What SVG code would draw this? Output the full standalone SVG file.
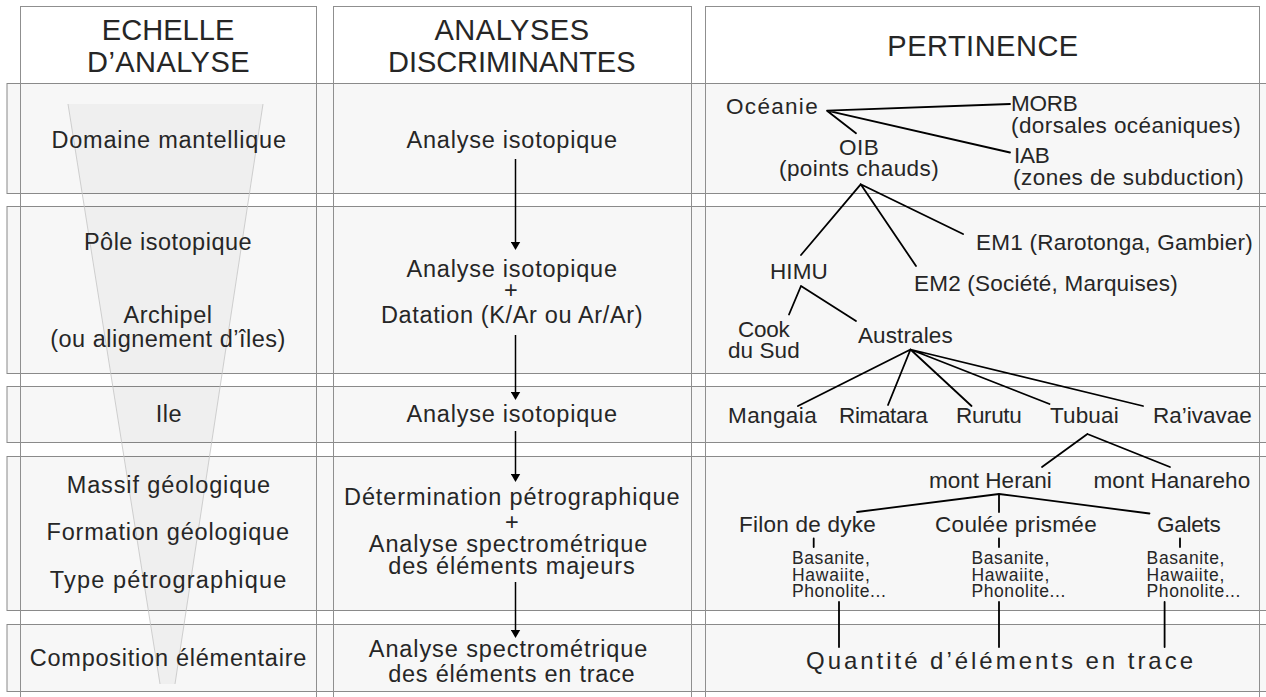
<svg xmlns="http://www.w3.org/2000/svg" width="1266" height="697" viewBox="0 0 1266 697">
<defs>
<style>
text{font-family:"Liberation Sans",Arial,Helvetica,sans-serif;fill:#262626}
.h{font-size:29px;letter-spacing:0.5px;text-anchor:middle}
.t{font-size:23.5px;letter-spacing:0.5px;text-anchor:middle}
.r{font-size:22.5px;letter-spacing:0.3px}
.rm{font-size:22.5px;letter-spacing:0.3px;text-anchor:middle}
.s{font-size:17.5px;letter-spacing:0.2px}
.q{font-size:24px;letter-spacing:3px;text-anchor:middle}
.col{fill:#fff;stroke:none}
.colline{fill:none;stroke:#8f8f8f;stroke-width:1}
.band{fill:#f7f7f7;stroke:#8a8a8a;stroke-width:1}
.ln{stroke:#000;stroke-width:1.8;fill:none;stroke-linecap:round}
.arr{stroke:#000;stroke-width:1.5;fill:none;marker-end:url(#ah)}
</style>
<marker id="ah" markerUnits="userSpaceOnUse" markerWidth="10" markerHeight="10" refX="5.5" refY="5" orient="auto"><path d="M0,0 L8.5,5 L0,10 z" fill="#000"/></marker>
</defs>
<g id="background">
<rect class="col" x="20" y="6" width="296" height="700"/>
<rect class="col" x="333" y="6" width="359" height="700"/>
<rect class="col" x="706" y="6" width="554" height="700"/>
<rect class="band" x="7" y="83.5" width="1270" height="110"/>
<rect class="band" x="7" y="206.5" width="1270" height="167"/>
<rect class="band" x="7" y="386.5" width="1270" height="56"/>
<rect class="band" x="7" y="456.5" width="1270" height="154"/>
<rect class="band" x="7" y="624.5" width="1270" height="67"/>
<rect class="colline" x="20.5" y="6.5" width="296" height="700"/>
<rect class="colline" x="333.5" y="6.5" width="358" height="700"/>
<rect class="colline" x="705.5" y="6.5" width="554" height="700"/>
<polygon points="68,104 263,104 175,684 160,684" fill="#000" fill-opacity="0.03"/>
<path d="M68,104 L160,684 M263,104 L175,684" stroke="#c4c4c4" stroke-width="0.8" fill="none"/>
</g>
<g id="headers">
<text class="h" x="168.3" y="40" textLength="133" lengthAdjust="spacing">ECHELLE</text>
<text class="h" x="168.5" y="71.7" textLength="163" lengthAdjust="spacing">D’ANALYSE</text>
<text class="h" x="512" y="40">ANALYSES</text>
<text class="h" x="512" y="72" textLength="248" lengthAdjust="spacing">DISCRIMINANTES</text>
<text class="h" x="983" y="56">PERTINENCE</text>
</g>
<g id="echelle">
<text class="t" x="169" y="147.5" textLength="235" lengthAdjust="spacing">Domaine mantellique</text>
<text class="t" x="168" y="250">Pôle isotopique</text>
<text class="t" x="168" y="323">Archipel</text>
<text class="t" x="168" y="347">(ou alignement d’îles)</text>
<text class="t" x="169" y="421.7">Ile</text>
<text class="t" x="168.7" y="492.5" textLength="204" lengthAdjust="spacing">Massif géologique</text>
<text class="t" x="168" y="540" textLength="243" lengthAdjust="spacing">Formation géologique</text>
<text class="t" x="168.3" y="587.5" textLength="237" lengthAdjust="spacing">Type pétrographique</text>
<text class="t" x="168.3" y="666" textLength="277" lengthAdjust="spacing">Composition élémentaire</text>
</g>
<g id="analyses">
<text class="t" x="512" y="148" textLength="211" lengthAdjust="spacing">Analyse isotopique</text>
<text class="t" x="512" y="276.7" textLength="211" lengthAdjust="spacing">Analyse isotopique</text>
<text class="t" x="511" y="297.5">+</text>
<text class="t" x="512" y="322.7" textLength="262" lengthAdjust="spacing">Datation (K/Ar ou Ar/Ar)</text>
<text class="t" x="512" y="421.7" textLength="211" lengthAdjust="spacing">Analyse isotopique</text>
<text class="t" x="512" y="505" textLength="336" lengthAdjust="spacing">Détermination pétrographique</text>
<text class="t" x="512" y="530">+</text>
<text class="t" x="508.3" y="551.7" textLength="279" lengthAdjust="spacing">Analyse spectrométrique</text>
<text class="t" x="511.7" y="574.3" textLength="247" lengthAdjust="spacing">des éléments majeurs</text>
<text class="t" x="508.3" y="656.7" textLength="279" lengthAdjust="spacing">Analyse spectrométrique</text>
<text class="t" x="511.7" y="681.7" textLength="247" lengthAdjust="spacing">des éléments en trace</text>
</g>
<g id="pertinence">
<text class="r" x="726" y="114" textLength="92" lengthAdjust="spacing">Océanie</text>
<text class="r" x="1011" y="111" textLength="67" lengthAdjust="spacing">MORB</text>
<text class="r" x="1011" y="132.5" textLength="230" lengthAdjust="spacing">(dorsales océaniques)</text>
<text class="r" x="1014" y="163" textLength="36" lengthAdjust="spacing">IAB</text>
<text class="r" x="1013" y="184.5" textLength="231" lengthAdjust="spacing">(zones de subduction)</text>
<text class="rm" x="859" y="155" textLength="40" lengthAdjust="spacing">OIB</text>
<text class="rm" x="859" y="175.5" textLength="160" lengthAdjust="spacing">(points chauds)</text>
<text class="r" x="976" y="250" textLength="277" lengthAdjust="spacing">EM1 (Rarotonga, Gambier)</text>
<text class="rm" x="799" y="279" textLength="58" lengthAdjust="spacing">HIMU</text>
<text class="r" x="914" y="291" textLength="264" lengthAdjust="spacing">EM2 (Société, Marquises)</text>
<text class="rm" x="764" y="336.5" textLength="52" lengthAdjust="spacing">Cook</text>
<text class="rm" x="764" y="357.5" textLength="72" lengthAdjust="spacing">du Sud</text>
<text class="r" x="858" y="342.5" textLength="95" lengthAdjust="spacing">Australes</text>
<text class="r" x="728" y="423" textLength="89" lengthAdjust="spacing">Mangaia</text>
<text class="r" x="839" y="423" textLength="89" lengthAdjust="spacing">Rimatara</text>
<text class="r" x="956" y="423" textLength="66" lengthAdjust="spacing">Rurutu</text>
<text class="r" x="1050" y="423" textLength="69" lengthAdjust="spacing">Tubuai</text>
<text class="r" x="1153" y="423" textLength="99" lengthAdjust="spacing">Ra’ivavae</text>
<text class="rm" x="990.5" y="488" textLength="123" lengthAdjust="spacing">mont Herani</text>
<text class="rm" x="1172" y="488" textLength="157" lengthAdjust="spacing">mont Hanareho</text>
<text class="rm" x="807.5" y="532" textLength="137" lengthAdjust="spacing">Filon de dyke</text>
<text class="rm" x="1016" y="532" textLength="162" lengthAdjust="spacing">Coulée prismée</text>
<text class="rm" x="1189" y="532" textLength="64" lengthAdjust="spacing">Galets</text>
<text class="s" x="792" y="564" textLength="78" lengthAdjust="spacing">Basanite,</text>
<text class="s" x="792" y="580.5" textLength="78" lengthAdjust="spacing">Hawaiite,</text>
<text class="s" x="792" y="597" textLength="94" lengthAdjust="spacing">Phonolite...</text>
<text class="s" x="971.5" y="564" textLength="78" lengthAdjust="spacing">Basanite,</text>
<text class="s" x="971.5" y="580.5" textLength="78" lengthAdjust="spacing">Hawaiite,</text>
<text class="s" x="971.5" y="597" textLength="94" lengthAdjust="spacing">Phonolite...</text>
<text class="s" x="1146.6" y="564" textLength="78" lengthAdjust="spacing">Basanite,</text>
<text class="s" x="1146.6" y="580.5" textLength="78" lengthAdjust="spacing">Hawaiite,</text>
<text class="s" x="1146.6" y="597" textLength="94" lengthAdjust="spacing">Phonolite...</text>
<text class="q" x="1001" y="669" textLength="390" lengthAdjust="spacing">Quantité d’éléments en trace</text>
</g>
<g id="connectors">
<line class="arr" x1="515.5" y1="159" x2="515.5" y2="247"/>
<line class="arr" x1="515.5" y1="335" x2="515.5" y2="397"/>
<line class="arr" x1="515.5" y1="431" x2="515.5" y2="479"/>
<line class="arr" x1="515.5" y1="582" x2="515.5" y2="635"/>
<path class="ln" d="M827,110.7 L1010,104 M827,110.7 L856,133.3 M827,110.7 L1010,152.5"/>
<path class="ln" d="M860.7,184.3 L801,255 M860.7,184.3 L916,266 M860.7,184.3 L963,234"/>
<path class="ln" d="M801,286 L789,314.5 M801,286 L856,321"/>
<path class="ln" d="M910.5,349.5 L798,406 M910.5,349.5 L888,405 M910.5,349.5 L971.5,406 M910.5,349.5 L1049.5,404 M910.5,349.5 L1143,406"/>
<path class="ln" d="M1087.4,434 L1042,467 M1087.4,434 L1170,467"/>
<path class="ln" d="M999,494 L857,512 M999,494 L999,512 M999,494 L1149.5,513.5"/>
<path class="ln" d="M813.7,538.5 L813.7,547 M999,538.5 L999,547 M1180,538.5 L1180,547"/>
<path class="ln" d="M839,602 L839,647 M999,602 L999,647 M1164.6,602 L1164.6,647"/>
</g>
</svg>
